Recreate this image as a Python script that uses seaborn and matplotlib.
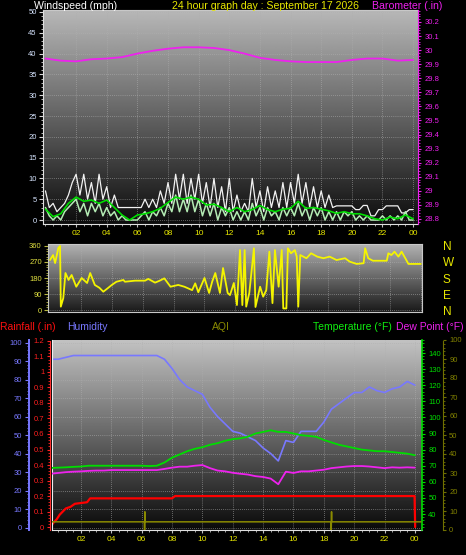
import matplotlib.pyplot as plt
import matplotlib.ticker as mticker
import numpy as np
import seaborn as sns

# ---- values ----
# wind, every 15 minutes from 00:00 to 24:00
wind_hours = np.arange(97) / 4
wind_gust = [7, 3, 4, 2, 3, 4, 6, 9, 11, 6, 11, 5, 9, 4, 11, 5, 8, 3, 6, 3,
             3, 3, 3, 3, 3, 3, 5, 3, 5, 3, 7, 4, 9, 4, 11, 5, 11, 4, 10, 5,
             11, 4, 9, 3, 10, 3, 8, 2, 10, 2, 6, 2, 4, 2, 10, 3, 7, 2, 8, 3,
             7, 3, 9, 3, 9, 4, 11, 4, 9, 3, 8, 3, 7, 3, 6, 3, 3.4, 3.4, 3.4, 3.4,
             3.4, 2.5, 2.5, 3.5, 3.5, 1, 1, 2.5, 2.5, 3.4, 3.4, 3.4, 3.4, 1.7, 1.7, 2.5,
             2.5]
wind_speed = [3, 1, 0, 1, 0, 2, 3, 4, 5, 2, 4, 1, 4, 2, 4, 1, 3, 1, 2, 0,
              1, 0, 0, 0, 0, 1, 2, 0, 2, 1, 3, 1, 4, 2, 6, 2, 5, 2, 6, 2,
              5, 1, 4, 1, 4, 0, 3, 1, 3, 0, 2, 0, 2, 0, 4, 1, 3, 0, 3, 1,
              2, 0, 3, 1, 3, 1, 4, 1, 3, 0, 3, 1, 3, 0, 2, 0, 2, 0, 2, 1,
              2, 0, 1, 0, 1, 0, 0, 0, 1, 0, 1, 0, 1, 0, 2, 0,
              0]
# half hourly series
half_hours = np.arange(49) / 2
wind_avg = [2.6, 0.8, 1.5, 4, 5.5, 4.5, 4.8, 4, 4.8, 3, 1.2, 0, 1.2, 1.5, 2, 2.8,
            4.2, 5.5, 5, 5.5, 5, 3.6, 3.8, 3, 2, 3, 2, 2.5, 3.5, 2.5, 2, 2.6,
            2.8, 4.5, 2.8, 3, 2.6, 2.2, 1.6, 2, 1.5, 1.5, 1.0, 0.3, 0, 0.7, 0.3, 1.2,
            0.3]
humidity = [91, 91, 92, 93, 93, 93, 93, 93, 93, 93, 93, 93, 93, 93, 93, 91,
            86, 80, 76, 74, 72, 65, 60, 56, 52, 51, 49, 47, 43, 40, 36, 47,
            46, 52, 52, 52, 57, 64, 67, 70, 73, 73, 76, 74, 73, 75, 76, 79,
            77]
temperature = [68.6, 68.8, 69, 69.3, 69.5, 70, 70, 70, 70, 70, 70, 70, 70, 69.8, 70, 72,
               75, 77, 79, 80.5, 81.5, 83, 84, 85.5, 86.5, 87, 88, 90, 91, 92, 91, 91,
               90, 89, 88.5, 88, 86, 84.5, 83, 82, 81, 80, 79.5, 79, 79, 78.5, 78, 77.5,
               76.5]
dew_point = [65, 65.5, 66, 66.3, 66.5, 66.8, 67, 67, 67.3, 67.3, 67.3, 67.3, 67.3, 67.3, 67.3, 68,
             68.8, 69.4, 69.4, 70, 70.4, 68.5, 67, 66.5, 65.6, 65, 64.5, 63.5, 63, 62, 58.5, 66.3,
             65.5, 66.5, 66.5, 67, 67.5, 68.5, 69, 69.5, 69.8, 69.8, 69.5, 69, 68.5, 69, 68.8, 69,
             68.8]
# hourly barometer
baro_hours = np.arange(25)
barometer = [29.94, 29.925, 29.92, 29.935, 29.94, 29.95, 29.975, 29.995, 30.01, 30.02,
             30.02, 30.015, 30.0, 29.975, 29.945, 29.93, 29.92, 29.915, 29.915, 29.915,
             29.93, 29.94, 29.94, 29.925, 29.93]
# wind direction samples
dir_hours = [0.0, 0.2, 0.33, 0.54, 0.65, 0.7, 0.86, 1.0, 1.2, 1.4, 1.7, 2.05, 2.4, 2.6, 2.9,
             3.2, 3.45, 3.7, 4.0, 4.3, 4.75, 4.85, 5.5, 6.15, 6.36, 6.8, 7.1, 7.4, 7.8, 8.3,
             8.7, 9.2, 9.4, 9.6, 9.8, 10.0, 10.3, 10.5, 10.7, 11.0, 11.2, 11.5, 11.65, 11.9,
             12.1, 12.3, 12.45, 12.6, 12.7, 12.9, 13.2, 13.3, 13.6, 13.8, 14.0, 14.2, 14.4,
             14.56, 14.8, 15.0, 15.1, 15.3, 15.4, 15.6, 15.85, 15.97, 16.07, 16.2, 16.6,
             16.9, 17.3, 17.7, 18.1, 18.55, 19.1, 19.4, 19.85, 20.3, 20.4, 20.6, 20.9, 21.8,
             21.9, 22.1, 22.3, 22.55, 22.76, 23.0, 23.2, 24.0]
dir_deg = [281, 309, 264, 349, 360, 19, 67, 208, 169, 197, 131, 180, 152, 208, 141,
           125, 103, 120, 141, 159, 169, 159, 165, 165, 175, 154, 165, 178, 131, 141,
           131, 112, 150, 100, 140, 180, 96, 160, 208, 96, 236, 96, 84, 152,
           28, 337, 28, 337, 19, 96, 347, 17, 131, 75, 112, 328, 39,
           337, 131, 337, 9, 9, 347, 319, 337, 300, 19, 309, 291,
           319, 300, 291, 300, 281, 291, 272, 259, 263, 347, 291, 277, 277,
           319, 309, 328, 300, 328, 291, 259, 259]
# cumulative rainfall
rain_hours = [0.05, 0.2, 0.4, 0.6, 0.8, 1.0, 1.3, 1.6, 2.0, 2.4, 2.6, 8.0, 8.2, 23.98, 24.02]
rain_in = [0.01, 0.03, 0.05, 0.08, 0.10, 0.12, 0.13, 0.15, 0.155, 0.16, 0.185, 0.185, 0.20, 0.20, 0.0]
# air quality index
aqi_hours = [0.1, 6.18, 6.19, 6.21, 6.22, 18.48, 18.49, 18.51, 18.52, 24.4]
aqi = [4.3, 4.3, 0, 9.6, 4.3, 4.3, 0, 9.6, 4.3, 4.3]

hour_ticks = list(range(2, 25, 2))
hour_labels = ["%02d" % (h % 24) for h in hour_ticks]

YELLOW = "#e8e800"
MAGENTA = "#ee22ee"
GREEN = "#00dd00"
BLUE = "#7878ff"
OLIVE = "#8a8a00"

sns.set_style("ticks")
plt.rcParams["font.family"] = ["Liberation Sans", "DejaVu Sans"]

W, H = 466, 555
fig = plt.figure(figsize=(W / 100, H / 100), dpi=100, facecolor="black")


def box(left, top, right, bottom):
    return [left / W, 1 - bottom / H, (right - left) / W, (bottom - top) / H]


def paint_bg(ax, top, bottom):
    grad = np.linspace(top, bottom, 256)[:, None]
    ax.imshow(grad, extent=[0, 1, 0, 1], transform=ax.transAxes, cmap="gray",
              vmin=0, vmax=1, aspect="auto", zorder=0, interpolation="bilinear")


def style_grid(ax):
    ax.grid(True, color="#b0b0b0", linestyle=(0, (1, 2)), linewidth=0.5)
    ax.set_axisbelow(True)


def hour_axis(ax, labels=True):
    ax.set_xticks(hour_ticks)
    ax.xaxis.set_minor_locator(mticker.MultipleLocator(0.5))
    ax.set_xticklabels(hour_labels if labels else [])
    ax.tick_params(axis="x", which="both", colors="#c0c0c0", labelcolor=YELLOW,
                   labelsize=6, length=2, pad=2)
    ax.tick_params(axis="x", which="minor", length=1.2)


def line(ax, x, y, color, lw, z=3):
    sns.lineplot(x=x, y=y, ax=ax, color=color, linewidth=lw, estimator=None,
                 sort=False, zorder=z)
    ax.set_xlabel("")
    ax.set_ylabel("")


def num(v, pos=None):
    return "%g" % round(v, 2)


# ---------------- panel 1: wind + barometer ----------------
ax1 = fig.add_axes(box(43, 10, 418, 224))
paint_bg(ax1, 0.72, 0.05)
line(ax1, wind_hours, wind_gust, "#f2f2f2", 0.9)
line(ax1, wind_hours, wind_speed, "#b4ecb4", 1.1)
line(ax1, half_hours, wind_avg, GREEN, 1.2, z=4)
ax1.set_xlim(-0.16, 24.32)
ax1.set_ylim(-0.96, 50.48)
ax1.set_yticks(range(0, 51, 5))
ax1.yaxis.set_minor_locator(mticker.MultipleLocator(1))
ax1.tick_params(axis="y", which="both", colors="#d8d8d8", labelcolor="#d6e4ff",
                labelsize=5.5, length=3, pad=1.5)
ax1.tick_params(axis="y", which="minor", length=1.5)
hour_axis(ax1)
style_grid(ax1)
for s in ["left", "bottom"]:
    ax1.spines[s].set_color("#e0e0e0")
ax1.spines["top"].set_color("#c8c8c8")
ax1.spines["right"].set_visible(False)

ax1b = ax1.twinx()
line(ax1b, baro_hours, barometer, MAGENTA, 1.3)
ax1b.set_ylim(28.764, 30.285)
ax1b.set_yticks(np.round(np.arange(28.8, 30.25, 0.1), 1))
ax1b.yaxis.set_major_formatter(mticker.FuncFormatter(num))
ax1b.yaxis.set_minor_locator(mticker.MultipleLocator(0.02))
ax1b.tick_params(axis="y", which="both", colors=MAGENTA, labelcolor=MAGENTA,
                 labelsize=5.5, length=2.5, pad=2)
ax1b.tick_params(axis="y", which="minor", length=1.3)
for s in ["left", "top", "bottom"]:
    ax1b.spines[s].set_visible(False)
ax1b.spines["right"].set_color(MAGENTA)
ax1b.grid(False)

fig.text(34 / W, 1 - 6 / H, "Windspeed (mph)", color="white", fontsize=7.6, va="center")
fig.text(266 / W, 1 - 6 / H, "24 hour graph day : September 17 2026", color=YELLOW,
         fontsize=7.6, va="center", ha="center")
fig.text(372 / W, 1 - 6 / H, "Barometer (.in)", color=MAGENTA, fontsize=7.6, va="center")

# ---------------- panel 2: wind direction ----------------
ax2 = fig.add_axes(box(48, 244, 422, 312))
paint_bg(ax2, 0.70, 0.10)
line(ax2, dir_hours, dir_deg, "#f4f400", 1.3)
ax2.set_xlim(-0.13, 24.08)
ax2.set_ylim(-11, 371)
ax2.set_yticks([0, 90, 180, 270, 360])
ax2.yaxis.set_minor_locator(mticker.MultipleLocator(15))
ax2.tick_params(axis="y", which="both", colors="#b8b840", labelcolor="#e0e040",
                labelsize=5.5, length=3, pad=1.5)
ax2.tick_params(axis="y", which="minor", length=1.5)
ax2.set_xticks(hour_ticks)
ax2.tick_params(axis="x", which="both", length=0, labelbottom=False)
style_grid(ax2)
for s in ax2.spines.values():
    s.set_color("#c8c8c8")

ax2b = ax2.twinx()
ax2b.set_ylim(ax2.get_ylim())
ax2b.set_yticks([0, 90, 180, 270, 360])
ax2b.set_yticklabels(["N", "E", "S", "W", "N"])
ax2b.tick_params(axis="y", length=0, pad=15, labelsize=8.5, labelcolor=YELLOW)
for s in ax2b.spines.values():
    s.set_visible(False)
ax2b.grid(False)

# ---------------- panel 3: rain, humidity, temperature ----------------
ax3 = fig.add_axes(box(52, 340, 422, 530))
paint_bg(ax3, 0.76, 0.04)
line(ax3, half_hours, humidity, BLUE, 1.2)
ax3.set_xlim(0.09, 24.47)
ax3.set_ylim(-1.35, 101.4)
ax3.set_yticks(range(0, 101, 10))
ax3.yaxis.set_minor_locator(mticker.MultipleLocator(2))
ax3.tick_params(axis="y", which="both", colors=BLUE, labelcolor=BLUE,
                labelsize=5.5, length=3, pad=2)
ax3.tick_params(axis="y", which="minor", length=1.5)
ax3.spines["left"].set_position(("outward", 16.6))
ax3.spines["left"].set_color(BLUE)
ax3.spines["left"].set_linewidth(1.4)
ax3.spines["bottom"].set_color("#e0e0e0")
ax3.spines["top"].set_visible(False)
ax3.spines["right"].set_visible(False)
hour_axis(ax3)
style_grid(ax3)

axr = ax3.twinx()
line(axr, rain_hours, rain_in, "#ff0000", 1.6, z=5)
axr.set_ylim(-0.019, 1.206)
axr.yaxis.tick_left()
axr.set_yticks(np.round(np.arange(0, 1.21, 0.1), 1))
axr.yaxis.set_major_formatter(mticker.FuncFormatter(num))
axr.yaxis.set_minor_locator(mticker.MultipleLocator(0.02))
axr.tick_params(axis="y", which="both", colors="#ff2020", labelcolor="#ff2020",
                labelsize=5.5, length=2.5, pad=1.5)
axr.tick_params(axis="y", which="minor", length=1.2)
axr.spines["left"].set_position(("outward", 1.6))
axr.spines["left"].set_color("#ff3030")
axr.spines["left"].set_linestyle((0, (2, 1)))
for s in ["right", "top", "bottom"]:
    axr.spines[s].set_visible(False)
axr.grid(False)

axt = ax3.twinx()
line(axt, half_hours, temperature, GREEN, 1.3, z=4)
line(axt, half_hours, dew_point, MAGENTA, 1.3, z=4)
axt.set_ylim(30.06, 148.1)
axt.set_yticks(range(40, 141, 10))
axt.yaxis.set_minor_locator(mticker.MultipleLocator(2))
axt.tick_params(axis="y", which="both", colors=GREEN, labelcolor=GREEN,
                labelsize=5.5, length=2.5, pad=2)
axt.tick_params(axis="y", which="minor", length=1.3)
axt.spines["right"].set_color(GREEN)
axt.spines["right"].set_linewidth(1.2)
axt.spines["left"].set_color("#f0f0f0")
axt.spines["top"].set_visible(False)
axt.spines["bottom"].set_visible(False)
axt.grid(False)

axq = ax3.twinx()
line(axq, aqi_hours, aqi, OLIVE, 1.1, z=3)
axq.set_ylim(0, 99.6)
axq.set_yticks(range(0, 101, 10))
axq.yaxis.set_minor_locator(mticker.MultipleLocator(2))
axq.tick_params(axis="y", which="both", colors="#707000", labelcolor="#808000",
                labelsize=5.5, length=2.5, pad=2)
axq.tick_params(axis="y", which="minor", length=1.3)
axq.spines["right"].set_position(("outward", 15.1))
axq.spines["right"].set_color("#707000")
axq.spines["right"].set_linestyle((0, (2, 1)))
for s in ["left", "top", "bottom"]:
    axq.spines[s].set_visible(False)
axq.grid(False)

hy = 1 - 327 / H
fig.text(0 / W, hy, "Rainfall (.in)", color="#ff1010", fontsize=7.5, va="center")
fig.text(67 / W, hy, "Humidity", color=BLUE, fontsize=7.5, va="center")
fig.text(221 / W, hy, "AQI", color=OLIVE, fontsize=7.5, va="center", ha="center")
fig.text(313 / W, hy, "Temperature (°F)", color="#10ee10", fontsize=7.5, va="center")
fig.text(464 / W, hy, "Dew Point (°F)", color=MAGENTA, fontsize=7.5, va="center", ha="right")

fig.savefig("out.png", dpi=100, facecolor="black")
